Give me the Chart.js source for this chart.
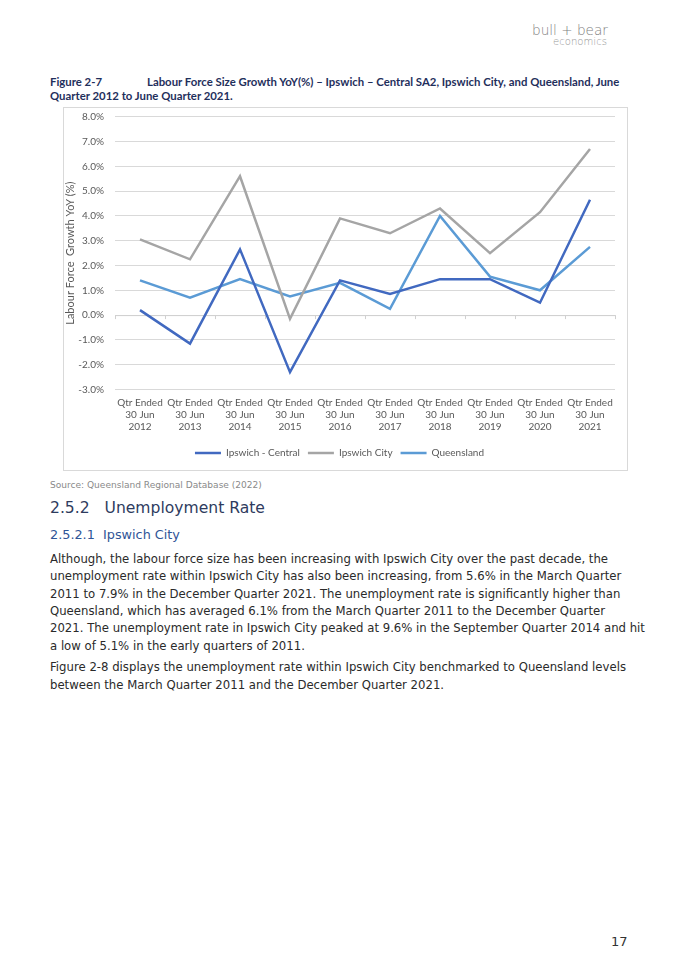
<!DOCTYPE html>
<html>
<head>
<meta charset="utf-8">
<script src="https://cdn.jsdelivr.net/npm/chart.js@4.4.1/dist/chart.umd.min.js"></script>
<style>
  html, body { margin: 0; padding: 0; background: #fff; }
  body { width: 675px; height: 968px; position: relative; overflow: hidden; }
  .t { position: absolute; white-space: nowrap; }
  .body { font-family: "DejaVu Sans", sans-serif; color: #2a2a2a; font-size: 11.5px; height: 20px; line-height: 20px; }
  .cap { font-family: "Lato", sans-serif; font-weight: bold; color: #1f2f5c; font-size: 12px; height: 16px; line-height: 16px; }
  #chartBox { position: absolute; left: 63px; top: 107px; width: 563px; height: 362px; border: 1px solid #d9d9d9; }
  #chartBox canvas { position: absolute; left: 0; top: 0; }
</style>
</head>
<body>

<div class="t" style="left:532px;top:17px;height:26px;line-height:26px;font-family:'DejaVu Sans',sans-serif;font-weight:200;font-size:19px;color:#808080;" data-w="76">bull + bear</div>
<div class="t" style="left:553px;top:35px;height:14px;line-height:14px;font-family:'DejaVu Sans',sans-serif;font-weight:200;font-size:9px;color:#999;" data-w="54">economics</div>

<div class="t cap" style="left:50px;top:74px;">Figure 2-7</div>
<div class="t cap" id="capMain" style="left:147px;top:74px;">Labour Force Size Growth YoY(%) – Ipswich – Central SA2, Ipswich City, and Queensland, June</div>
<div class="t cap" style="left:50px;top:88px;">Quarter 2012 to June Quarter 2021.</div>

<div id="chartBox"><canvas id="chart1" width="562" height="361"></canvas></div>

<div class="t" style="left:50px;top:477px;height:16px;line-height:16px;font-family:'DejaVu Sans',sans-serif;font-size:9.5px;color:#8a8a8a;" data-w="212">Source: Queensland Regional Database (2022)</div>
<div class="t" style="left:50px;top:496px;height:24px;line-height:24px;font-family:'DejaVu Sans',sans-serif;font-size:18px;color:#2e3b5e;" data-w="215">2.5.2&nbsp;&nbsp;&nbsp;Unemployment Rate</div>
<div class="t" style="left:50px;top:525px;height:20px;line-height:20px;font-family:'DejaVu Sans',sans-serif;font-size:14px;color:#2f5597;" data-w="130">2.5.2.1&nbsp;&nbsp;Ipswich City</div>

<div id="bodyText"></div>

<div class="t" style="left:611px;top:932px;height:20px;line-height:20px;font-family:'DejaVu Sans',sans-serif;font-size:13px;color:#333;">17</div>

<script>
'use strict';

// dữ liệu biểu đồ
const years = ["2012", "2013", "2014", "2015", "2016", "2017", "2018", "2019", "2020", "2021"];
const ipswichCentral = [0.2, -1.15, 2.65, -2.3, 1.4, 0.85, 1.45, 1.45, 0.5, 4.65];
const ipswichCity = [3.05, 2.25, 5.6, -0.15, 3.9, 3.3, 4.3, 2.5, 4.15, 6.7];
const queensland = [1.4, 0.7, 1.45, 0.75, 1.3, 0.25, 4.0, 1.55, 1.0, 2.75];
const yTicks = [-3, -2, -1, 0, 1, 2, 3, 4, 5, 6, 7, 8];

// đoạn văn bên dưới biểu đồ: [text, y tâm dòng]
const bodyLines = [
  ["Although, the labour force size has been increasing with Ipswich City over the past decade, the", 558.5],
  ["unemployment rate within Ipswich City has also been increasing, from 5.6% in the March Quarter", 576],
  ["2011 to 7.9% in the December Quarter 2021. The unemployment rate is significantly higher than", 593.5],
  ["Queensland, which has averaged 6.1% from the March Quarter 2011 to the December Quarter", 611],
  ["2021. The unemployment rate in Ipswich City peaked at 9.6% in the September Quarter 2014 and hit", 628],
  ["a low of 5.1% in the early quarters of 2011.", 645.5],
  ["Figure 2-8 displays the unemployment rate within Ipswich City benchmarked to Queensland levels", 667],
  ["between the March Quarter 2011 and the December Quarter 2021.", 684.5],
];

const bodyBox = document.getElementById("bodyText");
const bodyEls = bodyLines.map(([text, y]) => {
  const div = document.createElement("div");
  div.className = "t body";
  div.style.left = "50px";
  div.style.top = (y - 10) + "px";
  div.textContent = text;
  bodyBox.appendChild(div);
  return div;
});

// co chữ cho khớp độ rộng của bản gốc
const fitSize = (el, target) => {
  const size = parseFloat(getComputedStyle(el).fontSize);
  const actual = el.getBoundingClientRect().width;
  return actual > 0 ? size * target / actual : size;
};
document.querySelectorAll("[data-w]").forEach((el) => {
  el.style.fontSize = fitSize(el, parseFloat(el.dataset.w)).toFixed(2) + "px";
});
// một cỡ chữ chung cho cả đoạn văn, lấy theo dòng dài nhất (x 50 → 645)
const bodySize = fitSize(bodyEls[4], 595).toFixed(2) + "px";
bodyEls.forEach((el) => { el.style.fontSize = bodySize; });
// chú thích hình: cùng một cỡ
const capSize = fitSize(document.getElementById("capMain"), 473).toFixed(2) + "px";
document.querySelectorAll(".cap").forEach((el) => { el.style.fontSize = capSize; });

const tickColor = "#595959";
Chart.defaults.font.family = "Lato, sans-serif";
Chart.defaults.color = tickColor;

const makeSet = (label, data, color) => ({
  label,
  data,
  borderColor: color,
  backgroundColor: color,
  borderWidth: 2.5,
  pointRadius: 0,
  tension: 0,
  fill: false,
});

// vạch chia nhỏ dưới trục 0% giữa các nhóm, giống Excel
const zeroTicks = {
  id: "zeroTicks",
  beforeDatasetsDraw: (chart) => {
    const { ctx, scales: { x, y } } = chart;
    const y0 = y.getPixelForValue(0);
    ctx.save();
    ctx.strokeStyle = "#d0d0d0";
    ctx.lineWidth = 1;
    ctx.beginPath();
    ctx.moveTo(x.left, y0 + 0.5);
    ctx.lineTo(x.right, y0 + 0.5);
    for (let i = 0; i <= years.length; i++) {
      const px = Math.round(x.getPixelForValue(i - 0.5)) + 0.5;
      ctx.moveTo(px, y0);
      ctx.lineTo(px, y0 + 4);
    }
    ctx.stroke();
    ctx.restore();
  },
};

new Chart(document.getElementById("chart1"), {
  type: "line",
  data: {
    labels: years.map((y) => ["Qtr Ended", "30 Jun", y]),
    datasets: [
      makeSet("Ipswich - Central", ipswichCentral, "#4169c0"),
      makeSet("Ipswich City", ipswichCity, "#a5a5a5"),
      makeSet("Queensland", queensland, "#5b9bd5"),
    ],
  },
  options: {
    responsive: false,
    animation: false,
    devicePixelRatio: 1,
    layout: { padding: { left: 0, right: 11, top: 8.7, bottom: 1 } },
    scales: {
      x: {
        offset: true,
        grid: { display: false, drawTicks: false },
        border: { display: false },
        ticks: { padding: 7, maxRotation: 0, autoSkip: false, font: { size: 10 } },
        afterFit: (scale) => { scale.height = 50.5; },
      },
      y: {
        min: -3,
        max: 8,
        afterBuildTicks: (scale) => { scale.ticks = yTicks.map((v) => ({ value: v })); },
        grid: { color: "#d9d9d9", drawTicks: false, lineWidth: 1 },
        border: { display: false },
        ticks: { padding: 11, font: { size: 10 }, callback: (v) => v.toFixed(1) + "%" },
        title: {
          display: true,
          text: "Labour Force  Growth YoY (%)",
          font: { size: 11 },
          color: tickColor,
          padding: { top: 0, bottom: 0 },
        },
        // bỏ phần đệm trên/dưới mà tick padding thêm vào
        afterFit: (scale) => {
          scale.width = 51;
          scale.paddingTop = 0;
          scale.paddingBottom = 0;
        },
      },
    },
    plugins: {
      legend: {
        position: "bottom",
        labels: {
          usePointStyle: true,
          pointStyle: "line",
          pointStyleWidth: 26,
          padding: 8,
          font: { size: 10 },
          color: tickColor,
        },
      },
      tooltip: { enabled: false },
    },
  },
  plugins: [zeroTicks],
});
</script>
</body>
</html>
